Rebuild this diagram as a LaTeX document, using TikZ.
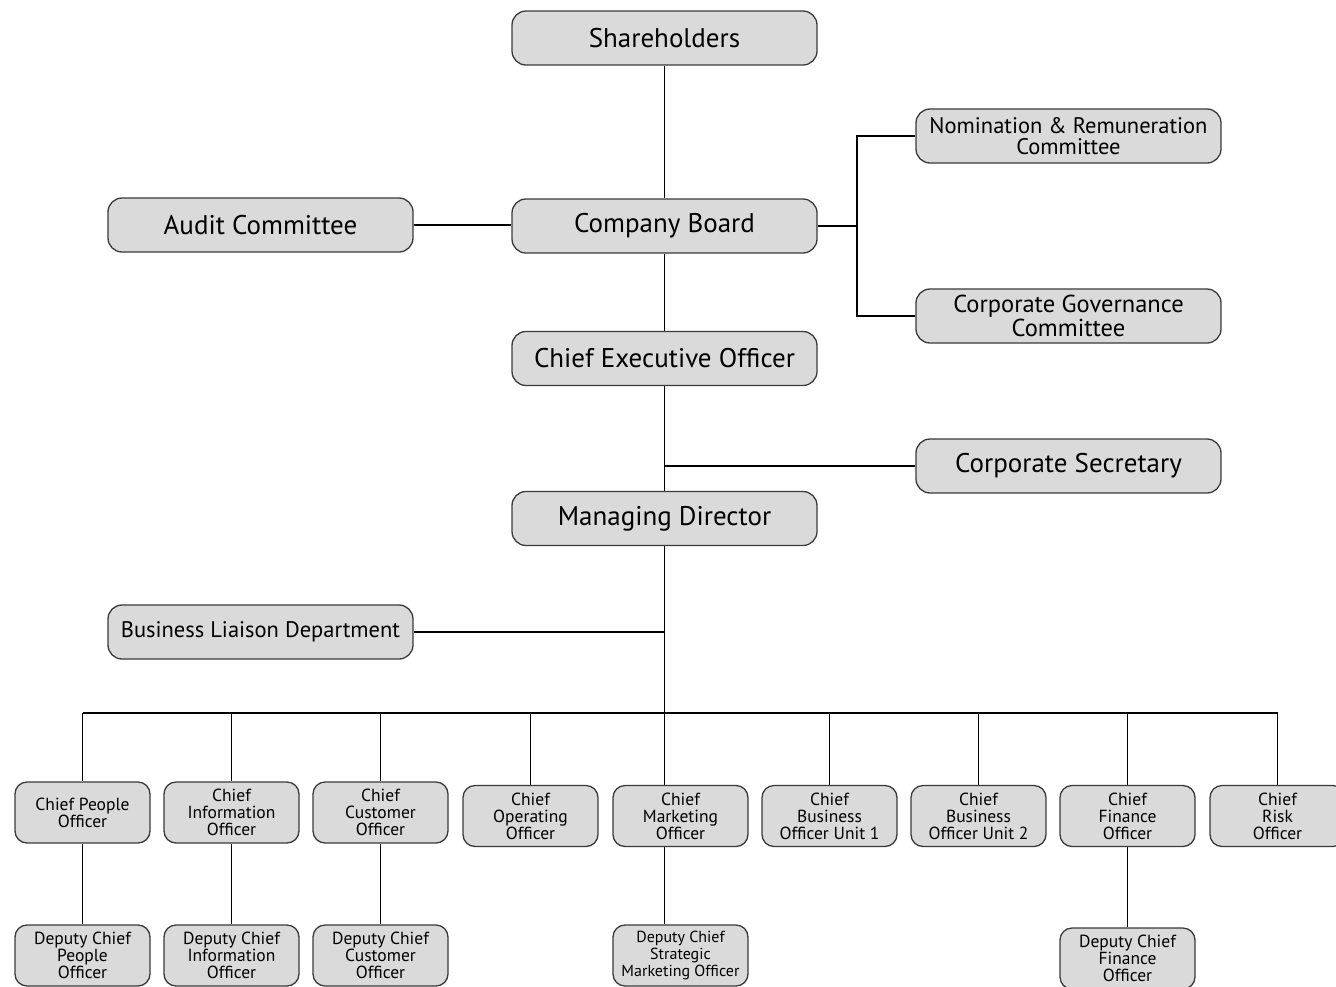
\documentclass[tikz,border=0pt]{standalone}
\usepackage{fontspec}
\setmainfont{PT Sans}
\usepackage{xcolor}
\usepackage{tikz}
\usetikzlibrary{positioning}
\definecolor{boxfill}{HTML}{DADADA}
\definecolor{boxline}{HTML}{3A3A3A}
\tikzset{
  link/.style={line width=1.3pt,black},
  bigbox/.style={draw=boxline,line width=1.3pt,fill=boxfill,rounded corners=14pt,minimum width=305pt,minimum height=54pt,inner sep=2pt,align=center,font=\fontsize{27}{20}\selectfont},
  smallbox/.style={draw=boxline,line width=1.3pt,fill=boxfill,rounded corners=12pt,minimum width=135pt,minimum height=61pt,inner sep=1pt,align=center,font=\fontsize{17.5}{17}\selectfont}
}
\begin{document}
\begin{tikzpicture}[x=1pt,y=-1pt]
\useasboundingbox (0,0) rectangle (1336,986);
\node[bigbox] (sh) at (664.5,38) {Shareholders};
\node[bigbox] (cb) at (664.5,226) {Company Board};
\node[bigbox] (ceo) at (664.5,358.5) {Chief Executive Officer};
\node[bigbox] (md) at (664.5,518.5) {Managing Director};
\node[bigbox] (audit) at (260.5,225) {Audit Committee};
\node[bigbox,font=\fontsize{22.5}{19}\selectfont] (bld) at (260.5,632) {Business Liaison Department};
\node[bigbox,font=\fontsize{22.5}{21.5}\selectfont] (nom) at (1068.5,136) {Nomination \& Remuneration\\Committee};
\node[bigbox,font=\fontsize{24.5}{21.5}\selectfont] (cgc) at (1068.5,316) {Corporate Governance\\Committee};
\node[bigbox] (sec) at (1068.5,466) {Corporate Secretary};
\coordinate (jn) at (857,226);
\coordinate (bus) at (664.5,713);
\node[smallbox] (cpo) at (82.5,812.5) {Chief People\\Officer};
\node[smallbox] (cio) at (231.5,812.5) {Chief\\Information\\Officer};
\node[smallbox] (cco) at (380.5,812.5) {Chief\\Customer\\Officer};
\node[smallbox] (coo) at (530.5,816) {Chief\\Operating\\Officer};
\node[smallbox] (cmo) at (680.5,816) {Chief\\Marketing\\Officer};
\node[smallbox] (cbo1) at (829.5,816) {Chief\\Business\\Officer Unit 1};
\node[smallbox] (cbo2) at (978.5,816) {Chief\\Business\\Officer Unit 2};
\node[smallbox] (cfo) at (1127.5,816) {Chief\\Finance\\Officer};
\node[smallbox] (cro) at (1277.5,816) {Chief\\Risk\\Officer};
\node[smallbox] (dcpo) at (82.5,955.5) {Deputy Chief\\People\\Officer};
\node[smallbox] (dcio) at (231.5,955.5) {Deputy Chief\\Information\\Officer};
\node[smallbox] (dcco) at (380.5,955.5) {Deputy Chief\\Customer\\Officer};
\node[smallbox,font=\fontsize{16}{17}\selectfont] (dcsmo) at (680.5,955.5) {Deputy Chief\\Strategic\\Marketing Officer};
\node[smallbox] (dcfo) at (1127.5,958.5) {Deputy Chief\\Finance\\Officer};
\draw[link] (sh) -- (cb);
\draw[link] (audit.east) -- (audit.east -| cb.west);
\draw[link] (cb.east) -- (jn);
\draw[link] (nom.west) -| (jn) |- (cgc.west);
\draw[link] (cb) -- (ceo);
\draw[link] (ceo) -- (md);
\draw[link] (sec.west) -- (sec.west -| md);
\draw[link] (md) -- (bus);
\draw[link] (bld.east) -- (bld.east -| md);
\draw[link] (cpo.north |- bus) -- (cro.north |- bus);
\foreach \n in {cpo,cio,cco,coo,cbo1,cbo2,cfo,cro}
  \draw[link] (\n.north |- bus) -- (\n.north);
\draw[link] (bus) -- (cmo.north -| md);
\foreach \a/\b in {cpo/dcpo,cio/dcio,cco/dcco,cfo/dcfo}
  \draw[link] (\a) -- (\b);
\draw[link] (cmo.south -| md) -- (dcsmo.north -| md);
\end{tikzpicture}
\end{document}
